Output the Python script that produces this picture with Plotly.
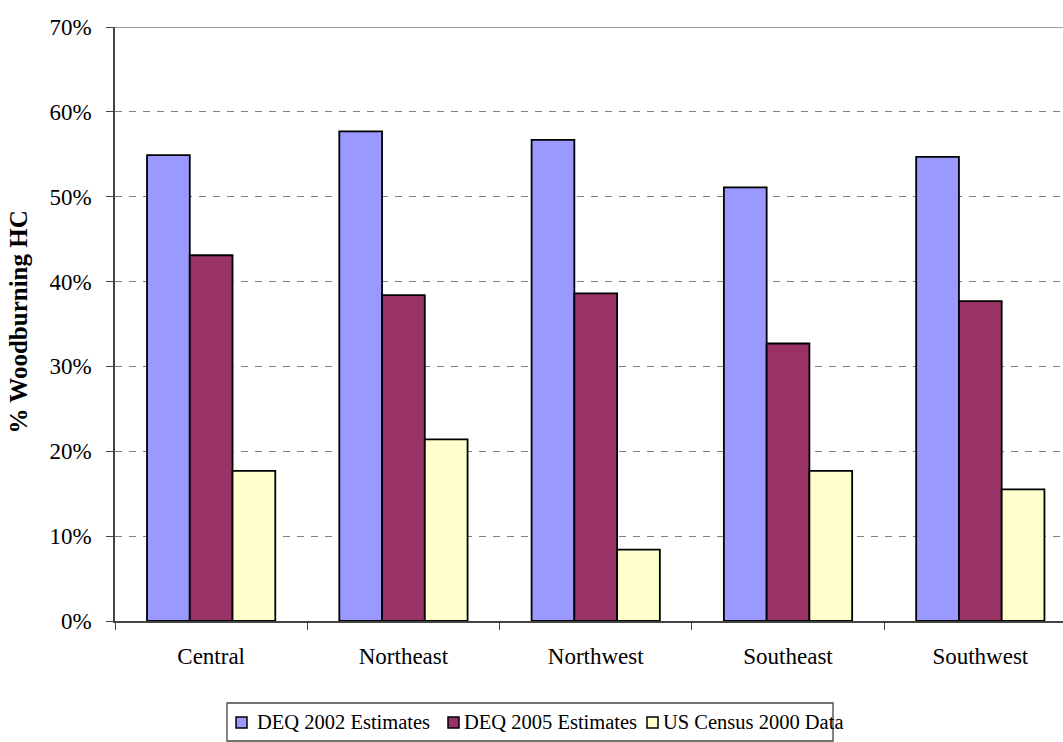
import plotly.graph_objects as go

regions = ["Central", "Northeast", "Northwest", "Southeast", "Southwest"]
deq_2002 = [0.549, 0.577, 0.567, 0.511, 0.547]
deq_2005 = [0.431, 0.384, 0.386, 0.327, 0.377]
census_2000 = [0.177, 0.214, 0.084, 0.177, 0.155]

series = [
    ("DEQ 2002 Estimates", deq_2002, "#9999FF"),
    ("DEQ 2005 Estimates", deq_2005, "#993366"),
    ("US Census 2000 Data", census_2000, "#FFFFCC"),
]

FONT = "Liberation Serif, Times New Roman, serif"
W, H = 1063, 742
ML, MR, MT, MB = 115, 0, 27, 121
PW, PH = W - ML - MR, H - MT - MB


def px_x(px):
    return (px - ML) / PW


def px_y(py):
    return (H - MB - py) / PH


fig = go.Figure()
for name, vals, color in series:
    fig.add_trace(go.Bar(
        name=name, x=regions, y=vals, showlegend=False,
        marker=dict(color=color, line=dict(color="black", width=1.8)),
    ))

fig.update_layout(
    width=W, height=H,
    margin=dict(l=ML, r=MR, t=MT, b=MB),
    paper_bgcolor="white", plot_bgcolor="white",
    barmode="group", bargap=0.333, bargroupgap=0,
    font=dict(family=FONT, size=23, color="black"),
)

fig.update_xaxes(
    type="category", range=[-0.5, 4.43],
    showline=True, linecolor="#444444", linewidth=1.5,
    ticks="outside", tickson="boundaries", ticklen=7, tickcolor="#444444",
    ticklabelstandoff=14, showgrid=False,
    tickfont=dict(family=FONT, size=23),
)
fig.update_yaxes(
    range=[0, 0.7], tickvals=[0, 0.1, 0.2, 0.3, 0.4, 0.5, 0.6, 0.7],
    tickformat=".0%",
    showline=True, linecolor="#444444", linewidth=1.5,
    ticks="outside", ticklen=7, tickcolor="#444444", ticklabelstandoff=10,
    showgrid=True, gridcolor="#808080", gridwidth=1.3, griddash="7px,7px",
    zeroline=False, tickfont=dict(family=FONT, size=23),
)

# solid top border of the plotting area at 70%
fig.add_shape(type="line", xref="paper", yref="y", x0=0, x1=1, y0=0.7, y1=0.7,
              line=dict(color="#808080", width=1.5))

fig.add_annotation(
    text="<b>% Woodburning HC</b>", textangle=-90,
    xref="paper", yref="paper", x=px_x(18), y=px_y(436),
    xanchor="center", yanchor="bottom",
    showarrow=False, font=dict(family=FONT, size=25, color="black"),
)

# legend box below the plot
fig.add_shape(type="rect", xref="paper", yref="paper",
              x0=px_x(227), x1=px_x(833), y0=px_y(703), y1=px_y(741),
              line=dict(color="#444444", width=1.3), fillcolor="white")
swatch_left = [236, 448, 647]
text_left = [255, 462, 661]
for (name, _, color), sx, tx in zip(series, swatch_left, text_left):
    fig.add_shape(type="rect", xref="paper", yref="paper",
                  x0=px_x(sx), x1=px_x(sx + 11), y0=px_y(717), y1=px_y(728),
                  line=dict(color="black", width=1.5), fillcolor=color)
    fig.add_annotation(text=name, xref="paper", yref="paper",
                       x=px_x(tx), y=px_y(722), xanchor="left", yanchor="middle",
                       showarrow=False, font=dict(family=FONT, size=20.5, color="black"))

fig.write_html("out.html")
